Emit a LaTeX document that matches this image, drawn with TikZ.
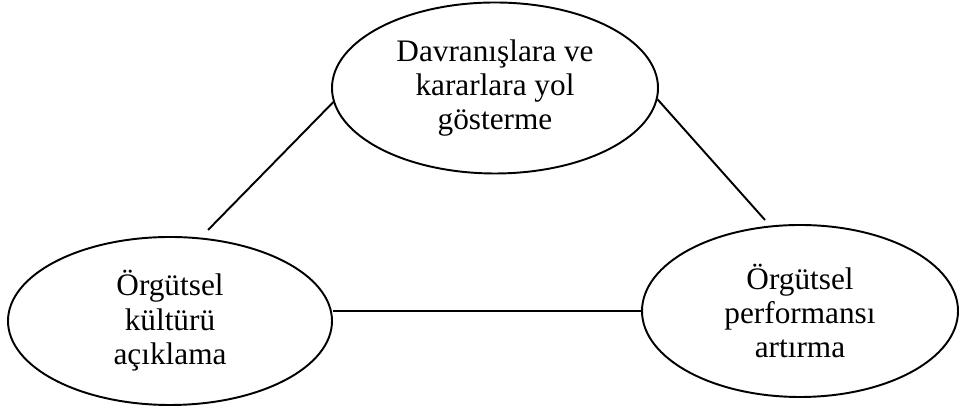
\documentclass[tikz,border=0pt]{standalone}
\usepackage{fontspec}
\setmainfont{Liberation Serif}
\usetikzlibrary{shapes.geometric}

\begin{document}
\begin{tikzpicture}
    \useasboundingbox (0,0) rectangle (19.2,8.24);
    \begin{scope}[every node/.style={ellipse,draw,line width=1.1pt,inner sep=0pt,align=center,
            font=\fontsize{17.8}{19.6}\selectfont}]
        \node[minimum width=6.52cm,minimum height=3.42cm] (yol) at (9.9,6.48) {Davranışlara ve\\kararlara yol\\gösterme};
        \node[minimum width=6.48cm,minimum height=3.36cm] (kultur) at (3.4,1.82) {Örgütsel\\kültürü\\açıklama};
        \node[minimum width=6.32cm,minimum height=3.44cm] (perf) at (16.0,2.02) {Örgütsel\\performansı\\artırma};
    \end{scope}

    % loose ends of the two slanted links
    \coordinate (a) at (4.16,3.64);
    \coordinate (b) at (15.3,3.84);

    \begin{scope}[line width=1.1pt]
        \draw (yol.185) -- (a);
        \draw (yol.356) -- (b);
        \draw (perf.west) -- (perf.west -| kultur.east);
    \end{scope}
\end{tikzpicture}
\end{document}
